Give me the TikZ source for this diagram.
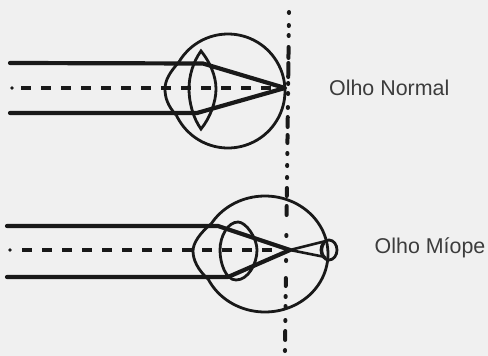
\documentclass[tikz,border=0pt]{standalone}
\usepackage{fontspec}
\setmainfont{Liberation Sans}
\definecolor{paper}{gray}{0.94}
\definecolor{ink}{gray}{0.1}
\tikzset{
  x=1pt,y=-1pt,
  eyeline/.style={draw=ink,line width=2.8pt},
  ray/.style={draw=ink,line width=4.2pt,line cap=round,line join=round},
  thinray/.style={draw=ink,line width=2.6pt,line cap=round},
  axis/.style={draw=ink,line width=3.4pt,dash pattern=on 10pt off 10pt},
  retina/.style={draw=ink,line width=4pt,line cap=round},
  caption/.style={font=\fontsize{21.4}{24}\selectfont,text=ink!85,inner sep=0pt,anchor=base west}
}
\begin{document}
\begin{tikzpicture}
\useasboundingbox[fill=paper] (0,0) rectangle (488,356);
% reference points
\coordinate (nA) at (10,63);
\coordinate (nB) at (10,113);
\coordinate (nF) at (285,88);
\coordinate (nAxisS) at (21,88);
\coordinate (mA) at (7,226);
\coordinate (mB) at (7,277);
\coordinate (mF) at (290,250);
\coordinate (mAxisS) at (22,250);
\coordinate (mAxisE) at (275,250);
% focal plane, broken into uneven marks
\foreach \a/\b in {12/13,25/26,35/36,47/58,63/77,83/84,93/94,107/108,117/127,135/143,153/154,165/166,177/178,188/196,206/215,235/236,260/261,278/286,296/297,306/307,320/321,331/340,350/351}
  \draw[retina] ({289-4*(\a-12)/338},\a) -- ({289-4*(\b-12)/338},\b);
% normal eye: globe open on the cornea side
\draw[eyeline] plot[smooth,domain=-149.4:155.2,samples=90,variable=\t] ({228+57*cos(\t)},{91+57*sin(\t)});
\draw[eyeline] (179,62) .. controls (170,72) and (165,80) .. (165,89) .. controls (165,98) and (168,106) .. (176,115);
\draw[eyeline] (201,51) .. controls (193,62) and (189,76) .. (189,89) .. controls (189,102) and (193,118) .. (201,129) .. controls (210,118) and (216,102) .. (216,89) .. controls (216,76) and (210,62) .. (201,51) -- cycle;
\draw[ray] (nA) -- (203,63.5) -- (nF) -- (197,113) -- (nB);
\draw[axis] (nAxisS) -- (nF);
\fill[ink] (12,88) circle[radius=1.8];
% myopic eye: globe open on the cornea side
\draw[eyeline] plot[smooth,domain=-148.9:154.5,samples=90,variable=\t] ({265+63*cos(\t)},{254+58*sin(\t)});
\draw[eyeline] (211,224) .. controls (200,233) and (193,243) .. (193,251) .. controls (193,260) and (198,270) .. (208,279);
\draw[eyeline] (238,222) .. controls (246,222) and (257,238) .. (257,250) .. controls (257,264) and (248,280) .. (236,280) .. controls (226,280) and (220,264) .. (220,250) .. controls (220,236) and (228,222) .. (238,222) -- cycle;
\draw[eyeline] (329,250) circle[x radius=8,y radius=10];
\draw[eyeline] (324,243) .. controls (321,247) and (321,253) .. (324,257);
\draw[ray] (mA) -- (218,226) -- (mF);
\draw[ray] (mB) -- (228,277) -- (mF);
\draw[thinray] (mF) -- (326,241);
\draw[thinray] (mF) -- (325,257);
\draw[axis] (mAxisS) -- (mAxisE);
\fill[ink] (10,250) circle[radius=1.8];
% captions
\node[caption] (lblN) at (329,95) {Olho Normal};
\node[caption] (lblM) at (374.5,253) {Olho Míope};
\end{tikzpicture}
\end{document}
